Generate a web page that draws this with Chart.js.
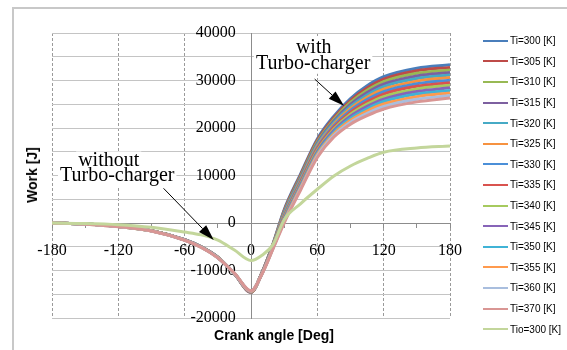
<!DOCTYPE html>
<html>
<head>
<meta charset="utf-8">
<script src="https://cdn.jsdelivr.net/npm/chart.js@4"></script>
<style>
  html, body { margin: 0; padding: 0; background: #fff; }
  body { width: 567px; height: 350px; overflow: hidden; position: relative; font-family: "Liberation Sans", Arial, sans-serif; }
  #frame { position: absolute; left: 12px; top: 7px; width: 600px; height: 400px; border-left: 2px solid #c8c8c8; border-top: 2px solid #c8c8c8; }
  #wrap { position: absolute; left: 0; top: 0; width: 567px; height: 350px; }
  .axis-title { position: absolute; font-weight: bold; font-size: 14px; color: #000; white-space: nowrap; }
  #ytitle { left: 32px; top: 175px; transform: translate(-50%, -50%) rotate(-90deg); }
  #xtitle { left: 274px; top: 335px; transform: translate(-50%, -50%); }
  #legend { position: absolute; left: 483px; top: 0; font-size: 10px; color: #000; }
  .item { position: absolute; left: 0; height: 14px; display: flex; align-items: center; white-space: nowrap; }
  .item i { display: inline-block; width: 25px; height: 2px; margin-right: 2px; }
</style>
</head>
<body>
<div id="frame"></div>
<div id="wrap"><canvas id="chart"></canvas></div>
<div class="axis-title" id="ytitle">Work [J]</div>
<div class="axis-title" id="xtitle">Crank angle [Deg]</div>
<div id="legend"></div>
<script>
// crank angle points (deg)
var angles = [-180, -150, -120, -90, -60, -45, -30, -15, 0, 10, 20, 30, 45, 60, 75, 90, 105, 120, 150, 180];

// work [J]
var ti300 = [0, -200, -700, -1600, -3500, -5000, -7200, -10700, -14600, -10400, -4300, 2800, 10400, 17700, 22500, 26200, 28900, 30800, 32600, 33300];
var ti305 = [0, -200, -700, -1600, -3500, -5000, -7200, -10700, -14600, -10400, -4380, 2590, 10140, 17400, 22160, 25790, 28420, 30280, 32050, 32760];
var ti310 = [0, -210, -710, -1610, -3510, -5010, -7210, -10700, -14550, -10450, -4470, 2370, 9880, 17100, 21820, 25370, 27930, 29750, 31510, 32220];
var ti315 = [0, -210, -710, -1620, -3520, -5020, -7220, -10700, -14550, -10450, -4550, 2150, 9610, 16800, 21490, 24960, 27450, 29230, 30960, 31690];
var ti320 = [0, -210, -720, -1620, -3530, -5030, -7230, -10700, -14500, -10500, -4640, 1940, 9350, 16500, 21150, 24540, 26960, 28710, 30420, 31150];
var ti325 = [0, -220, -720, -1630, -3540, -5040, -7240, -10700, -14500, -10500, -4720, 1720, 9090, 16200, 20810, 24120, 26470, 28180, 29870, 30610];
var ti330 = [0, -220, -730, -1640, -3550, -5050, -7250, -10650, -14450, -10550, -4810, 1510, 8830, 15900, 20470, 23710, 25990, 27660, 29330, 30070];
var ti335 = [0, -220, -730, -1640, -3560, -5060, -7260, -10650, -14450, -10550, -4890, 1290, 8570, 15600, 20130, 23290, 25510, 27140, 28780, 29530];
var ti340 = [0, -230, -740, -1650, -3570, -5070, -7270, -10650, -14400, -10600, -4980, 1080, 8310, 15300, 19790, 22880, 25020, 26620, 28230, 29000];
var ti345 = [0, -230, -740, -1660, -3580, -5080, -7280, -10650, -14400, -10600, -5060, 860, 8050, 15000, 19450, 22460, 24540, 26090, 27680, 28460];
var ti350 = [0, -230, -750, -1660, -3590, -5090, -7290, -10600, -14350, -10650, -5150, 650, 7780, 14700, 19120, 22050, 24050, 25570, 27140, 27920];
var ti355 = [0, -240, -750, -1670, -3600, -5100, -7300, -10600, -14350, -10650, -5230, 430, 7520, 14400, 18780, 21630, 23570, 25050, 26600, 27380];
var ti360 = [0, -240, -760, -1680, -3610, -5110, -7310, -10600, -14300, -10700, -5320, 220, 7260, 14100, 18440, 21210, 23080, 24520, 26050, 26840];
var ti370 = [0, -250, -770, -1690, -3630, -5130, -7330, -10550, -14250, -10750, -5400, 0, 7000, 13800, 18100, 20800, 22600, 24000, 25500, 26300];
var tio300 = [0, -100, -350, -900, -1900, -2500, -3600, -5700, -7900, -6800, -4500, 700, 4100, 7100, 9900, 12000, 13600, 14900, 15800, 16200];

var seriesNames = ['Ti=300 [K]', 'Ti=305 [K]', 'Ti=310 [K]', 'Ti=315 [K]', 'Ti=320 [K]', 'Ti=325 [K]', 'Ti=330 [K]',
  'Ti=335 [K]', 'Ti=340 [K]', 'Ti=345 [K]', 'Ti=350 [K]', 'Ti=355 [K]', 'Ti=360 [K]', 'Ti=370 [K]', 'Tio=300 [K]'];
var seriesValues = [ti300, ti305, ti310, ti315, ti320, ti325, ti330, ti335, ti340, ti345, ti350, ti355, ti360, ti370, tio300];
var seriesColors = ['#4a7ebb', '#be4b48', '#98b954', '#7d60a0', '#46aac5', '#f69240', '#4b8fd8',
  '#d9534f', '#a6ca5e', '#8764b8', '#40b3d6', '#ff9a4d', '#a9bede', '#d99694', '#c3d69b'];

var xTicksStep = 30, xLabelStep = 60;
var yTicksStep = 5000, yLabelStep = 10000;

// annotation texts and arrows, in data coordinates
var notes = [
  { text: 'with', x: 56.7, y: 35840 },
  { text: 'Turbo-charger', x: 56.2, y: 32470 },
  { text: 'without', x: -128.7, y: 11900 },
  { text: 'Turbo-charger', x: -121, y: 8840 }
];
var arrows = [
  { x1: 57.6, y1: 30300, x2: 84.1, y2: 24660 },
  { x1: -79.1, y1: 7300, x2: -33.7, y2: -3600 }
];

var annotate = {
  id: 'annotate',
  afterDatasetsDraw: function(chart) {
    var ctx = chart.ctx, xs = chart.scales.x, ys = chart.scales.y;
    ctx.save();
    ctx.font = '20px "Liberation Serif", "Times New Roman", serif';
    ctx.textAlign = 'center';
    ctx.textBaseline = 'alphabetic';
    notes.forEach(function(n) {
      var px = xs.getPixelForValue(n.x), py = ys.getPixelForValue(n.y);
      var w = ctx.measureText(n.text).width + 4;
      ctx.fillStyle = '#fff';
      ctx.fillRect(px - w / 2, py - 15, w, 20);
    });
    ctx.fillStyle = '#000';
    notes.forEach(function(n) {
      ctx.fillText(n.text, xs.getPixelForValue(n.x), ys.getPixelForValue(n.y));
    });
    ctx.strokeStyle = '#000';
    ctx.lineWidth = 1;
    arrows.forEach(function(a) {
      var x1 = xs.getPixelForValue(a.x1), y1 = ys.getPixelForValue(a.y1);
      var x2 = xs.getPixelForValue(a.x2), y2 = ys.getPixelForValue(a.y2);
      var ang = Math.atan2(y2 - y1, x2 - x1), L = 16, W = 5;
      var bx = x2 - L * Math.cos(ang), by = y2 - L * Math.sin(ang);
      ctx.beginPath(); ctx.moveTo(x1, y1); ctx.lineTo(bx, by); ctx.stroke();
      ctx.beginPath();
      ctx.moveTo(x2, y2);
      ctx.lineTo(bx + W * Math.sin(ang), by - W * Math.cos(ang));
      ctx.lineTo(bx - W * Math.sin(ang), by + W * Math.cos(ang));
      ctx.closePath(); ctx.fill();
    });
    ctx.restore();
  }
};

var datasets = seriesValues.map(function(vals, i) {
  return {
    label: seriesNames[i],
    data: angles.map(function(a, k) { return { x: a, y: vals[k] }; }),
    borderColor: seriesColors[i],
    backgroundColor: seriesColors[i],
    borderWidth: 3,
    pointRadius: 0,
    cubicInterpolationMode: 'monotone',
    fill: false,
    order: seriesValues.length - i
  };
});

var tickFont = { family: '"Liberation Serif", "Times New Roman", serif', size: 16 };

new Chart(document.getElementById('chart'), {
  type: 'line',
  data: { datasets: datasets },
  options: {
    responsive: true,
    maintainAspectRatio: false,
    animation: false,
    layout: { padding: { left: 52, top: 33, right: 117, bottom: 32 } },
    plugins: { legend: { display: false }, tooltip: { enabled: false } },
    scales: {
      x: {
        type: 'linear', min: -180, max: 180, position: { y: 0 },
        ticks: {
          stepSize: xTicksStep, autoSkip: false, maxRotation: 0, padding: 14,
          color: '#000', font: tickFont,
          callback: function(v) { return v % xLabelStep === 0 ? String(v) : ''; }
        },
        grid: {
          color: function(c) { var v = c.tick ? c.tick.value : 1; return (v % xLabelStep === 0 && v !== 0) ? '#9a9a9a' : 'rgba(0,0,0,0)'; },
          lineWidth: 1, drawTicks: true, tickLength: 4, tickColor: '#8c8c8c'
        },
        border: { display: true, color: '#8c8c8c', width: 1, dash: [3, 2] }
      },
      y: {
        type: 'linear', min: -20000, max: 40000, position: { x: 0 },
        ticks: {
          stepSize: yTicksStep, autoSkip: false,
          color: '#000', font: tickFont,
          // positioned axis ignores padding, so keep a gap with trailing spaces
          callback: function(v) { return v % yLabelStep === 0 ? String(v) + '   \u2009' : ''; }
        },
        grid: {
          color: function(c) { var v = c.tick ? c.tick.value : 1; return v === 0 ? 'rgba(0,0,0,0)' : '#c4c4c4'; },
          lineWidth: 1, drawTicks: false
        },
        border: { display: true, color: '#8c8c8c', width: 1 }
      }
    }
  },
  plugins: [annotate]
});

// legend built from the series names and colours
var legend = document.getElementById('legend');
seriesNames.forEach(function(name, i) {
  var row = document.createElement('div');
  row.className = 'item';
  row.style.top = (40.7 + 20.6 * i - 7) + 'px';
  var sw = document.createElement('i');
  sw.style.background = seriesColors[i];
  row.appendChild(sw);
  row.appendChild(document.createTextNode(name));
  legend.appendChild(row);
});
</script>
</body>
</html>
